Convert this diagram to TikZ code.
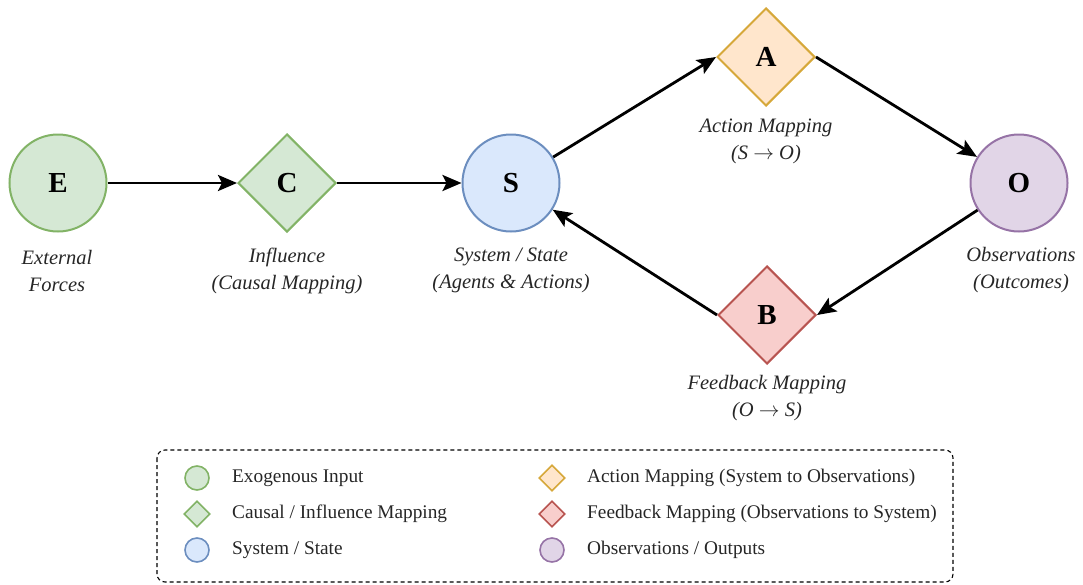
\documentclass[tikz,border=0pt]{standalone}
\usepackage{fontspec}
\setmainfont{Liberation Serif}[ItalicFont={Liberation Serif Italic},BoldFont={Liberation Serif Bold}]
\usetikzlibrary{shapes.geometric,arrows.meta}
\definecolor{gfill}{HTML}{D5E8D4}\definecolor{gdraw}{HTML}{82B366}
\definecolor{bfill}{HTML}{DAE8FC}\definecolor{bdraw}{HTML}{6C8EBF}
\definecolor{yfill}{HTML}{FFE6CC}\definecolor{ydraw}{HTML}{D6A83A}
\definecolor{rfill}{HTML}{F8CECC}\definecolor{rdraw}{HTML}{B85450}
\definecolor{pfill}{HTML}{E1D5E7}\definecolor{pdraw}{HTML}{9673A6}
\tikzset{
  circnode/.style={circle,minimum size=97pt,inner sep=0pt,line width=2pt,font=\bfseries\fontsize{29}{29}\selectfont},
  diamnode/.style={diamond,aspect=1,minimum width=98pt,minimum height=98pt,inner sep=0pt,line width=2pt,font=\bfseries\fontsize{29}{29}\selectfont},
  lbl/.style={align=center,font=\itshape\fontsize{20.5}{27}\selectfont,text=black!85},
  flow/.style={-{Stealth[length=19pt,width=16pt,inset=4pt]},line width=2.8pt,black},
  legcirc/.style={circle,minimum size=24pt,inner sep=0pt,line width=1.6pt},
  legdiam/.style={diamond,aspect=1,minimum width=26pt,minimum height=26pt,inner sep=0pt,line width=1.6pt},
  legtxt/.style={anchor=west,inner sep=0pt,font=\fontsize{19.3}{19}\selectfont,text=black!85}
}
\begin{document}
\begin{tikzpicture}[x=1pt,y=-1pt]
\useasboundingbox (0,0) rectangle (1083,584);
% main nodes
\node[circnode,draw=gdraw,fill=gfill] (E) at (58,183) {E};
\node[diamnode,draw=gdraw,fill=gfill] (C) at (287,183) {C};
\node[circnode,draw=bdraw,fill=bfill] (S) at (511,183) {S};
\node[diamnode,draw=ydraw,fill=yfill] (A) at (766,57) {A};
\node[circnode,draw=pdraw,fill=pfill] (O) at (1019,183) {O};
\node[diamnode,draw=rdraw,fill=rfill] (B) at (767,315) {B};
% labels
\node[lbl] (lE) at (57,270.5) {External\\Forces};
\node[lbl] (lC) at (287,270.5) {Influence\\(Causal Mapping)};
\node[lbl] (lS) at (511,270.5) {System / State\\(Agents \& Actions)};
\node[lbl] (lO) at (1021,270.5) {Observations\\(Outcomes)};
\node[lbl] (lA) at (766,141) {Action Mapping\\(S $\rightarrow$ O)};
\node[lbl] (lB) at (767,398) {Feedback Mapping\\(O $\rightarrow$ S)};
% connectors
\draw[flow] (E) -- (C.west);
\draw[flow] (C.east) -- (S);
\draw[flow] (S) -- (A.west);
\draw[flow] (A.east) -- (O);
\draw[flow] (O) -- (B.east);
\draw[flow] (B.west) -- (S);
% legend
\draw[line width=1.1pt,rounded corners=8pt,dash pattern=on 4pt off 3pt] (157,450) rectangle (953,582);
\node[legcirc,draw=gdraw,fill=gfill] (m1) at (197,478) {};
\node[legtxt] (t1) at (232,478) {Exogenous Input};
\node[legdiam,draw=gdraw,fill=gfill] (m2) at (197,514) {};
\node[legtxt] (t2) at (232,514) {Causal / Influence Mapping};
\node[legcirc,draw=bdraw,fill=bfill] (m3) at (197,550) {};
\node[legtxt] (t3) at (232,550) {System / State};
\node[legdiam,draw=ydraw,fill=yfill] (m4) at (552,478) {};
\node[legtxt] (t4) at (587,478) {Action Mapping (System to Observations)};
\node[legdiam,draw=rdraw,fill=rfill] (m5) at (552,514) {};
\node[legtxt] (t5) at (587,514) {Feedback Mapping (Observations to System)};
\node[legcirc,draw=pdraw,fill=pfill] (m6) at (552,550) {};
\node[legtxt] (t6) at (587,550) {Observations / Outputs};
\end{tikzpicture}
\end{document}
